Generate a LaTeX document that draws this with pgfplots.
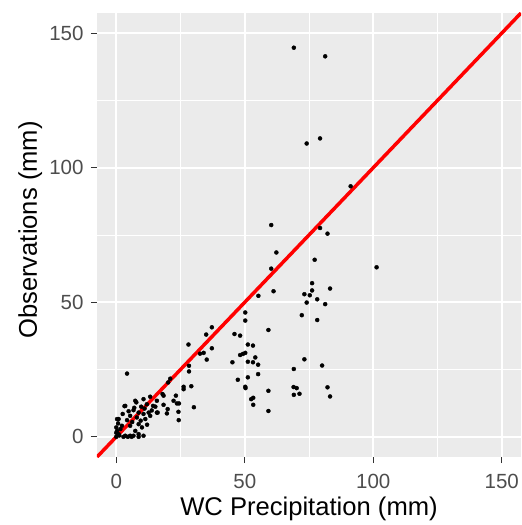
\documentclass[border=0pt]{standalone}
\usepackage{fontspec}
\setmainfont{Liberation Sans}
\usepackage{pgfplots}
\pgfplotsset{compat=1.18}
\definecolor{panel}{HTML}{EBEBEB}
\definecolor{ticklab}{HTML}{4D4D4D}
\definecolor{tickc}{HTML}{333333}
\pgfplotstableread{
x y
69.1 144.6
81.3 141.4
74.1 109.0
79.3 110.9
91.2 93.1
60.3 78.7
79.3 77.6
82.2 75.5
62.3 68.5
77.2 65.8
60.3 62.5
101.3 63.0
76.2 57.1
83.2 55.1
76.2 54.4
55.3 52.4
61.2 54.1
73.2 53.0
75.3 52.6
78.2 51.1
74.1 49.9
81.3 49.3
72.2 45.2
78.2 43.4
50.2 46.2
50.2 43.2
37.2 40.7
35.0 38.0
37.2 32.9
28.1 34.3
46.0 38.2
48.2 37.6
59.2 39.7
51.2 34.3
53.2 33.9
32.6 30.9
34.0 31.2
35.2 28.7
49.3 30.8
50.2 31.2
48.2 30.4
54.1 29.5
45.2 27.7
51.2 27.9
53.2 27.7
55.2 26.8
73.2 28.8
28.3 26.4
28.3 24.3
55.2 23.3
69.1 25.2
80.1 26.5
47.3 21.2
51.2 22.1
21.0 21.6
29.2 18.8
26.2 18.6
26.2 17.7
50.2 18.6
50.3 18.1
69.0 18.5
70.2 18.1
71.3 16.0
69.1 15.6
82.2 18.4
83.2 15.0
59.2 17.1
52.5 14.0
53.3 14.5
53.3 11.9
59.2 9.6
30.2 11.0
24.3 6.2
4.2 23.5
18.0 15.9
13.2 14.9
23.2 15.3
22.3 13.4
23.6 12.4
24.4 12.4
18.4 11.9
18.4 15.3
20.0 10.3
19.7 8.7
14.3 11.5
16.1 9.0
24.2 9.3
13.2 7.8
20.2 20.2
10.6 14.0
7.8 12.8
7.4 13.4
15.8 13.4
3.5 11.5
3.2 11.4
11.9 12.1
9.7 11.2
15.2 11.2
12.6 9.0
8.7 9.0
6.7 9.9
10.6 8.5
15.8 9.0
5.4 7.8
8.0 7.2
11.3 6.6
4.2 6.2
0.9 6.6
0.3 6.6
0.7 5.0
2.2 4.1
5.4 4.1
8.7 4.7
10.0 3.5
1.6 2.9
7.4 2.2
0.3 2.2
0.9 1.0
3.5 0.4
5.4 0.4
6.7 0.4
8.7 1.0
10.6 0.4
8.7 0.0
2.8 0.0
4.5 0.0
6.0 0.0
0.0 0.0
1.2 0.5
0.0 3.5
0.0 1.5
6.2 5.5
9.5 6.0
12.0 4.5
7.0 10.8
4.8 9.5
2.5 8.5
11.0 10.5
13.8 9.8
}\obs
\begin{document}
\begin{tikzpicture}
\begin{axis}[name=ax, at={(0,0)}, anchor=south west,
  scale only axis, width=424pt, height=444pt,
  xmin=-7.5, xmax=157.5, ymin=-7.5, ymax=157.5,
  axis background/.style={fill=panel},
  axis line style={draw=none},
  xtick={0,50,100,150}, ytick={0,50,100,150},
  minor xtick={25,75,125}, minor ytick={25,75,125},
  grid=both,
  major grid style={white, line width=1.6pt},
  minor grid style={white, line width=0.8pt},
  tick align=outside, xtick pos=bottom, ytick pos=left,
  major tick length=6pt, minor tick length=0pt,
  tick style={tickc, line width=1.1pt},
  ticklabel style={font=\fontsize{20.5}{20.5}\selectfont, text=ticklab},
  xticklabel style={yshift=-8pt},
  yticklabel style={xshift=-4pt},
  /pgf/number format/assume math mode=true,
  xlabel={WC Precipitation (mm)}, ylabel={Observations (mm)},
  label style={font=\fontsize{25.6}{25.6}\selectfont},
  xlabel style={at={(axis description cs:0.5,0)}, anchor=base, yshift=-58pt},
  ylabel style={at={(axis description cs:0,0.5)}, anchor=base, yshift=60pt, xshift=5pt},
]
\addplot[red, line width=3.5pt] coordinates {(-7.5,-7.5) (157.5,157.5)};
\addplot[only marks, mark=*, mark size=2pt, black] table[x=x, y=y] {\obs};
\end{axis}
\pgfresetboundingbox
\path[use as bounding box] (-97pt,-68pt) rectangle (425pt,457pt);
\end{tikzpicture}
\end{document}
